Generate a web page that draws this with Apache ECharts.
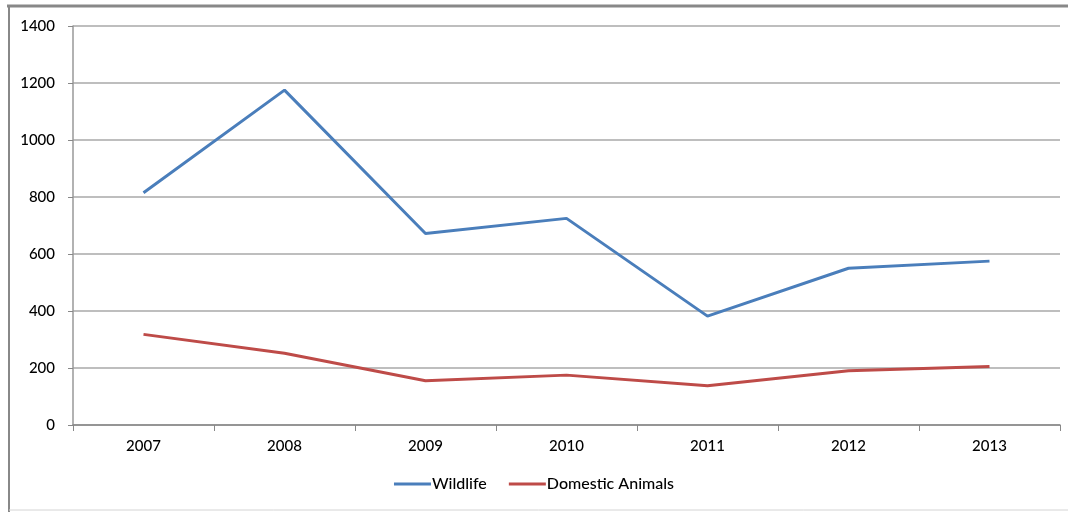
<!DOCTYPE html>
<html>
<head>
<meta charset="utf-8">
<script src="https://cdn.jsdelivr.net/npm/echarts@6/dist/echarts.min.js"></script>
<style>
  html, body { margin: 0; padding: 0; background: #fff; }
  #main { width: 1068px; height: 512px; }
</style>
</head>
<body>
<div id="main"></div>
<script>
var years = ['2007', '2008', '2009', '2010', '2011', '2012', '2013'];
var wildlife = [815, 1175, 672, 725, 382, 550, 575];
var domestic = [318, 252, 155, 175, 138, 190, 205];

var myChart = echarts.init(document.getElementById('main'));

var labelStyle = { color: '#000', fontFamily: 'Lato', fontSize: 15, fontWeight: 500 };

var option = {
  animation: false,
  backgroundColor: '#fff',
  graphic: [
    { type: 'line', shape: { x1: 7, y1: 6, x2: 1068, y2: 6 }, style: { stroke: '#888', lineWidth: 3 } },
    { type: 'line', shape: { x1: 9, y1: 6, x2: 9, y2: 512 }, style: { stroke: '#888', lineWidth: 2 } },
    { type: 'line', shape: { x1: 9, y1: 510, x2: 1068, y2: 510 }, style: { stroke: '#d4d4d4', lineWidth: 1 } }
  ],
  grid: { left: 73, right: 8, top: 26, bottom: 87 },
  legend: {
    bottom: 15,
    left: 'center',
    itemWidth: 37,
    itemHeight: 3,
    itemGap: 22,
    textStyle: { color: '#000', fontFamily: 'Lato', fontSize: 16, fontWeight: 500, padding: [0, 0, 0, -4] },
    data: [
      { name: 'Wildlife', icon: 'rect' },
      { name: 'Domestic Animals', icon: 'rect' }
    ]
  },
  xAxis: {
    type: 'category',
    data: years,
    boundaryGap: true,
    axisLine: { lineStyle: { color: '#888', width: 1.5 } },
    axisTick: { show: true, length: 6, lineStyle: { color: '#888' } },
    axisLabel: Object.assign({ margin: 14 }, labelStyle)
  },
  yAxis: {
    type: 'value',
    min: 0,
    max: 1400,
    interval: 200,
    axisLine: { show: true, lineStyle: { color: '#999', width: 1.5 } },
    axisTick: { show: true, length: 5, lineStyle: { color: '#888' } },
    axisLabel: Object.assign({ margin: 18, formatter: function (v) { return String(v); } }, labelStyle),
    splitLine: { lineStyle: { color: '#a8a8a8', width: 1.5 } }
  },
  series: [
    {
      name: 'Wildlife',
      type: 'line',
      data: wildlife,
      symbol: 'none',
      color: '#4a7ebb',
      lineStyle: { width: 3 }
    },
    {
      name: 'Domestic Animals',
      type: 'line',
      data: domestic,
      symbol: 'none',
      color: '#be4b48',
      lineStyle: { width: 3 }
    }
  ]
};

myChart.setOption(option);
</script>
</body>
</html>
